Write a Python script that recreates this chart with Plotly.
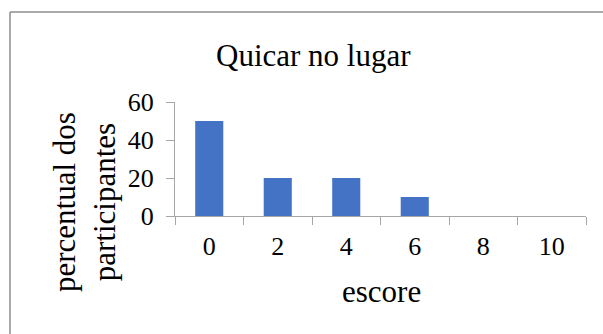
import plotly.graph_objects as go

# Score distribution for the "Quicar no lugar" task
scores = ["0", "2", "4", "6", "8", "10"]
percent = [50, 20, 20, 10, 0, 0]
y_ticks = [0, 20, 40, 60]

FONT = "Liberation Serif, Times New Roman, serif"
AXIS_GRAY = "#a6a6a6"

W, H = 603, 334
L, R, T, B = 175, 17, 102, 118
pw, ph = W - L - R, H - T - B


def px_x(x):
    return (x - L) / pw


def px_y(y):
    return 1 - (y - T) / ph


fig = go.Figure(
    go.Bar(
        x=scores,
        y=percent,
        marker=dict(color="#4472C4", line=dict(width=0)),
        hoverinfo="x+y",
    )
)

fig.update_layout(
    width=W,
    height=H,
    margin=dict(l=L, r=R, t=T, b=B),
    paper_bgcolor="white",
    plot_bgcolor="white",
    bargap=0.59,
    showlegend=False,
    font=dict(family=FONT, color="black"),
)

fig.update_xaxes(
    type="category",
    showline=True,
    linecolor=AXIS_GRAY,
    linewidth=1.3,
    ticks="outside",
    tickson="boundaries",
    ticklen=8,
    tickcolor=AXIS_GRAY,
    tickwidth=1.3,
    tickfont=dict(size=26, family=FONT),
    showgrid=False,
    zeroline=False,
    ticklabelstandoff=7,
)
fig.update_yaxes(
    range=[0, 60],
    tickvals=y_ticks,
    showline=True,
    linecolor=AXIS_GRAY,
    linewidth=1.3,
    ticks="outside",
    ticklen=8,
    tickcolor=AXIS_GRAY,
    tickwidth=1.3,
    tickfont=dict(size=26, family=FONT),
    showgrid=False,
    zeroline=False,
    ticklabelstandoff=7,
)

annotations = [
    dict(text="Quicar no lugar", x=px_x(313), y=px_y(55), xref="paper", yref="paper",
         showarrow=False, font=dict(size=31, family=FONT), xanchor="center", yanchor="middle"),
    dict(text="escore", x=px_x(381), y=px_y(291), xref="paper", yref="paper",
         showarrow=False, font=dict(size=31, family=FONT), xanchor="center", yanchor="middle"),
    dict(text="percentual dos<br>participantes", x=px_x(84), y=px_y(202), xref="paper", yref="paper",
         showarrow=False, textangle=-90, font=dict(size=31, family=FONT),
         xanchor="center", yanchor="middle"),
]
fig.update_layout(annotations=annotations)

# Chart frame (left and top edges visible, the rest runs off the page)
fig.add_shape(type="line", xref="paper", yref="paper",
              x0=px_x(10), x1=px_x(10), y0=px_y(12), y1=px_y(340),
              line=dict(color="#8c8c8c", width=1.5))
fig.add_shape(type="line", xref="paper", yref="paper",
              x0=px_x(10), x1=px_x(610), y0=px_y(12), y1=px_y(12),
              line=dict(color="#8c8c8c", width=1.5))

fig.write_html("out.html")
